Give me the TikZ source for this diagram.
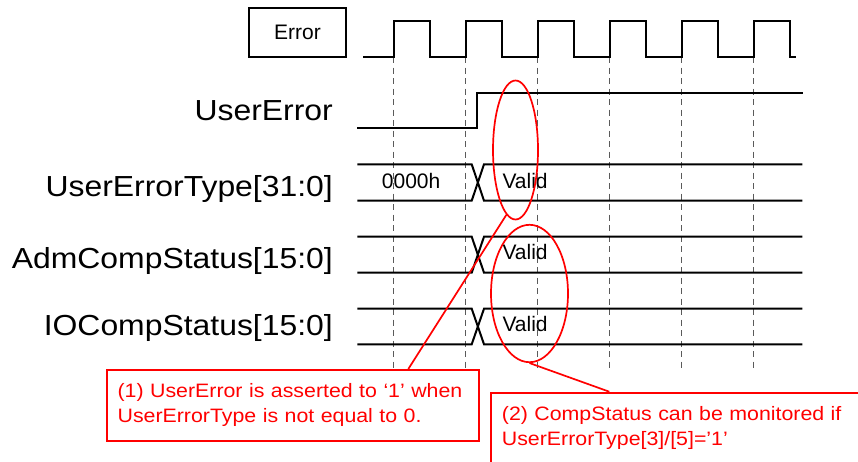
\documentclass[tikz,border=0pt]{standalone}
\usepackage{fontspec}
\setmainfont{Liberation Sans}
\newfontfamily\widefont[FakeStretch=1.1]{Liberation Sans}
\usetikzlibrary{shapes.geometric}
\definecolor{gridgray}{HTML}{5A5A5A}
\definecolor{callred}{HTML}{FF0000}
\begin{document}
\begin{tikzpicture}[x=1pt,y=-1pt,
  sig/.style={line width=2pt, line join=miter},
  guide/.style={gridgray, line width=1.5pt, dash pattern=on 6pt off 4.5pt},
  lbl/.style={anchor=base east, inner sep=0pt, font=\widefont\fontsize{29}{32}\selectfont},
  val/.style={anchor=base west, inner sep=0pt, font=\fontsize{21}{24}\selectfont},
  callout/.style={draw=callred, line width=1.8pt, text=callred, align=left, inner xsep=11pt, inner ysep=0pt, minimum height=71pt, anchor=north west, font=\widefont\fontsize{19.4}{25}\selectfont},
  ring/.style={ellipse, draw=callred, line width=1.7pt, inner sep=0pt},
  note/.style={callred, line width=1.7pt}
]
\clip (0,0) rectangle (858,461);

% guide lines
\foreach \i in {0,...,5}
  \draw[guide] ({393.5+72*\i},57) -- ({393.5+72*\i},369);

% Error box and clock
\node[draw, line width=2pt, minimum width=97pt, minimum height=48.4pt, inner sep=0pt, font=\fontsize{21}{24}\selectfont] (errbox) at (297.5,32.5) {Error};
\draw[sig] (363,57) foreach \i in {0,...,5} { -- ({393.5+72*\i},57) -- ({393.5+72*\i},20.7) -- ({430+72*\i},20.7) -- ({430+72*\i},57) } -- (796,57);

% UserError
\draw[sig] (357,127.7) -- (477.3,127.7) -- (477.3,92.7) -- (802.7,92.7);

% buses
\foreach \yt/\yb in {164.3/200.7, 236.7/272.7, 308.7/344.3} {
  \draw[sig] (357.3,\yt) -- (471.7,\yt) -- (484,\yb) -- (802.3,\yb);
  \draw[sig] (357.3,\yb) -- (471.7,\yb) -- (484,\yt) -- (802.3,\yt);
}

% labels
\node[lbl] (l1) at (333,120.7) {UserError};
\node[lbl] (l2) at (333,196.7) {UserErrorType[31:0]};
\node[lbl] (l3) at (333,268.3) {AdmCompStatus[15:0]};
\node[lbl] (l4) at (333,335) {IOCompStatus[15:0]};

% values
\node[val] (v0) at (381.7,188.3) {0000h};
\node[val] (v1) at (502.3,188.3) {Valid};
\node[val] (v2) at (502.3,259.3) {Valid};
\node[val] (v3) at (502.3,331.7) {Valid};

% ellipses
\node[ring, minimum width=45pt, minimum height=139pt] (ell1) at (515.5,150) {};
\node[ring, minimum width=77pt, minimum height=137.4pt] (ell2) at (529.5,293.5) {};

% callouts
\node[callout, text width=350.6pt] (box1) at (105.7,369) {(1) UserError is asserted to ‘1’ when\\UserErrorType is not equal to 0.};
\node[callout, text width=358pt] (box2) at (490,391.7) {(2) CompStatus can be monitored if\\UserErrorType[3]/[5]=’1’};

\draw[note] (ell1.262) -- ([xshift=302.6pt]box1.north west);
\draw[note] (ell2.south) -- ([xshift=119.3pt]box2.north west);
\end{tikzpicture}
\end{document}
